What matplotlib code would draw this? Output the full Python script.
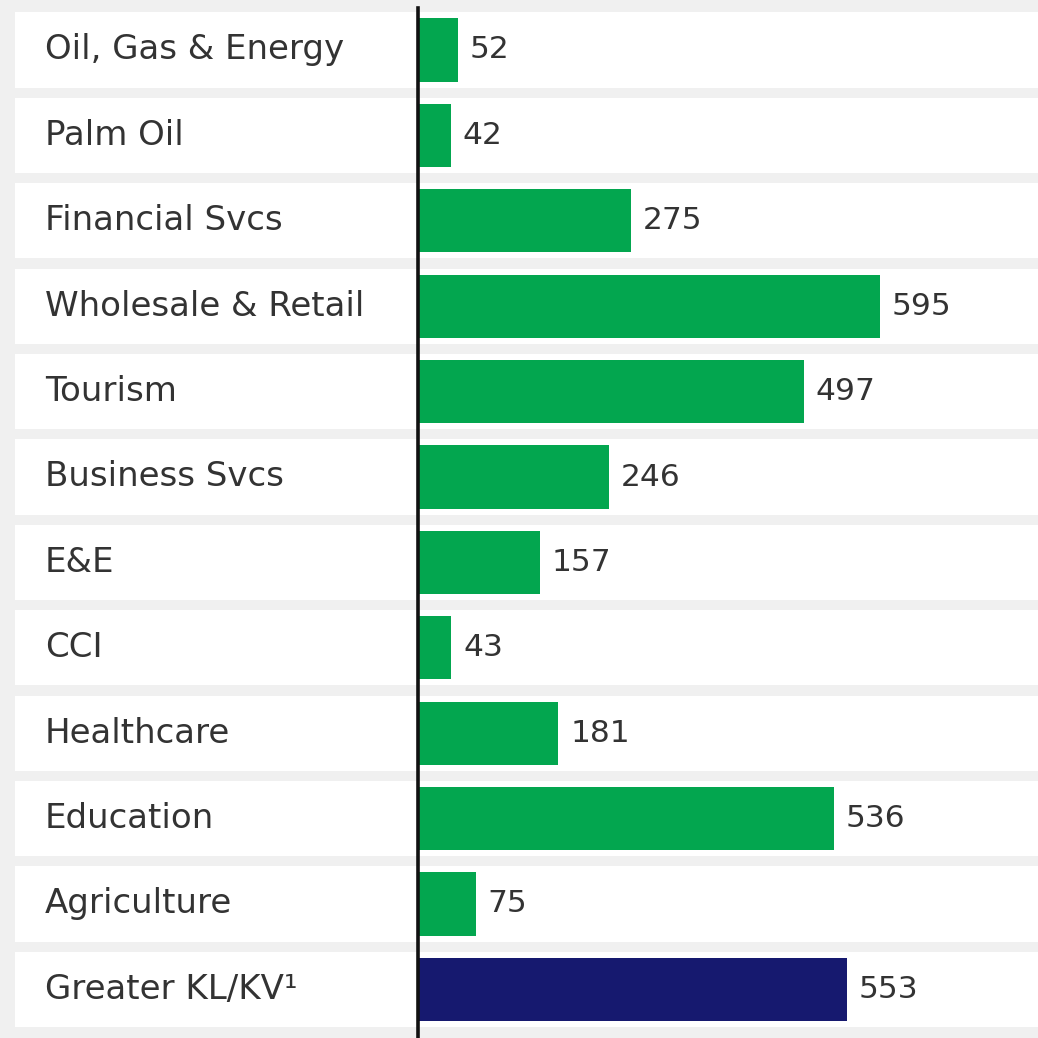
import matplotlib.pyplot as plt

# data
sectors = ["Oil, Gas & Energy", "Palm Oil", "Financial Svcs", "Wholesale & Retail",
           "Tourism", "Business Svcs", "E&E", "CCI", "Healthcare", "Education",
           "Agriculture", "Greater KL/KV\u00b9"]
values = [52, 42, 275, 595, 497, 246, 157, 43, 181, 536, 75, 553]
bar_colors = ["#03a64f"] * 11 + ["#16196f"]

W = 1038
px_per_unit = 0.776
axis_px = 418

fig = plt.figure(figsize=(10.38, 10.38), dpi=100, facecolor="#f0f0f0")
ax = fig.add_axes([0, 0, 1, 1])
ax.set_facecolor("#f0f0f0")

ax.set_xlim(-axis_px / px_per_unit, (W - axis_px) / px_per_unit)
# row centre 0 sits at 50 px from top, rows 85.4 px apart
ax.set_ylim((W - 50) / 85.4, -50 / 85.4)

for i in range(len(sectors)):
    ax.axhspan(i - 0.44, i + 0.44, xmin=15 / W, xmax=1, color="white", zorder=0, lw=0)

ypos = list(range(len(sectors)))
ax.barh(ypos, values, height=0.74, color=bar_colors, zorder=2)

ytr = ax.get_yaxis_transform()
for y, name, v in zip(ypos, sectors, values):
    ax.text(45 / W, y, name, transform=ytr, ha="left", va="center",
            fontsize=24.5, color="#333333", family="DejaVu Sans")
    ax.text(v + 15, y, str(v), ha="left", va="center",
            fontsize=22.5, color="#333333", family="DejaVu Sans")

ax.axvline(0, ymin=0, ymax=(W - 8) / W, color="#111111", lw=2.6, zorder=3)

ax.axis("off")
fig.savefig("out.png", dpi=100, facecolor=fig.get_facecolor())
